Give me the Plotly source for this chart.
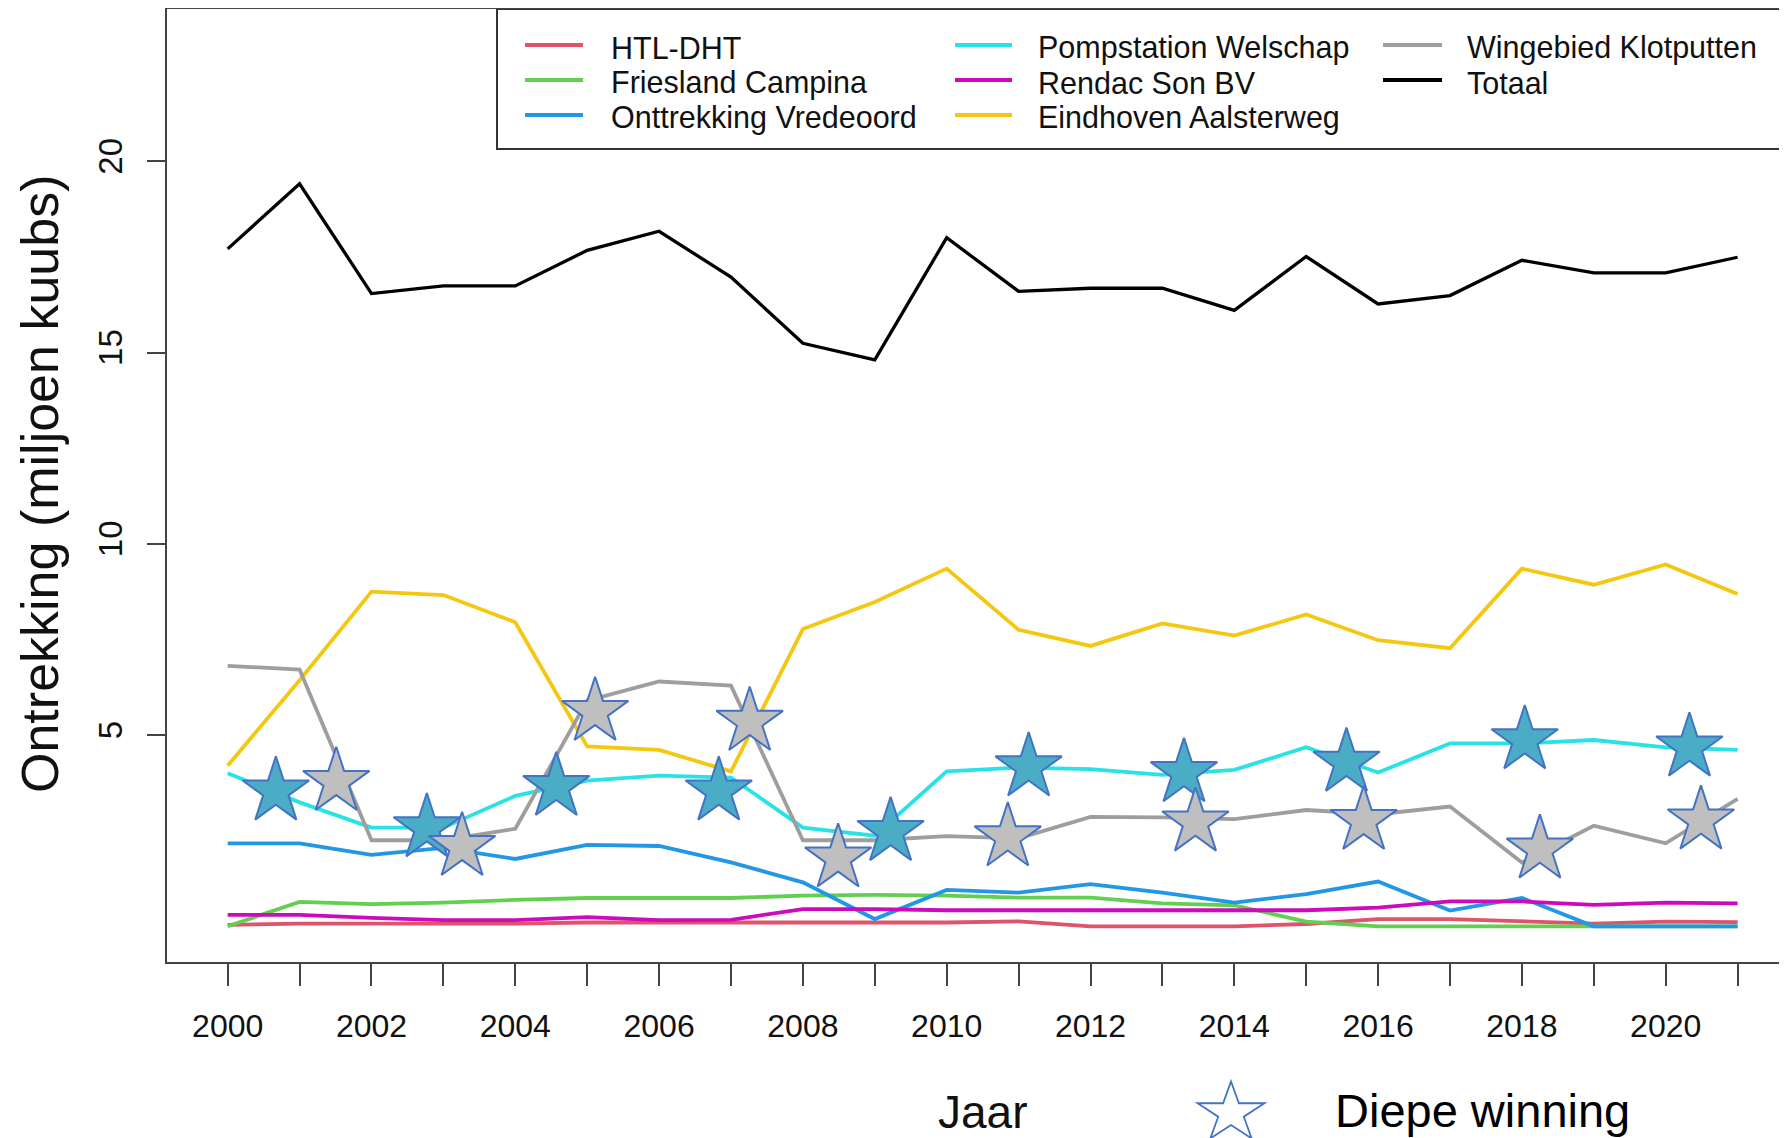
import math
import plotly.graph_objects as go

# ---------------- data ----------------
years = list(range(2000, 2022))
xtick_labels = [str(y) if y % 2 == 0 else "" for y in years]
ytick_vals = [5, 10, 15, 20]

htl_dht = [0.04, 0.07, 0.07, 0.07, 0.07, 0.10, 0.10, 0.10, 0.10, 0.10, 0.10,
           0.13, 0.00, 0.00, 0.00, 0.06, 0.19, 0.19, 0.14, 0.07, 0.12, 0.11]
friesland = [0.00, 0.64, 0.58, 0.62, 0.69, 0.74, 0.74, 0.74, 0.80, 0.82, 0.80,
             0.75, 0.75, 0.60, 0.55, 0.12, 0.00, 0.00, 0.00, 0.00, 0.00, 0.00]
vredeoord = [2.17, 2.17, 1.87, 2.05, 1.76, 2.13, 2.10, 1.67, 1.15, 0.19, 0.95,
             0.88, 1.10, 0.88, 0.62, 0.84, 1.17, 0.41, 0.74, 0.00, 0.00, 0.00]
welschap = [4.00, 3.24, 2.58, 2.58, 3.41, 3.81, 3.94, 3.89, 2.58, 2.37, 4.05,
            4.15, 4.11, 3.96, 4.09, 4.68, 4.02, 4.78, 4.78, 4.87, 4.68, 4.61]
rendac = [0.30, 0.30, 0.22, 0.16, 0.16, 0.24, 0.16, 0.17, 0.45, 0.45, 0.42,
          0.42, 0.41, 0.41, 0.41, 0.42, 0.49, 0.65, 0.65, 0.56, 0.62, 0.60]
aalsterweg = [4.20, 6.43, 8.75, 8.66, 7.95, 4.70, 4.61, 4.05, 7.77, 8.48, 9.35,
              7.75, 7.33, 7.92, 7.60, 8.15, 7.48, 7.27, 9.35, 8.93, 9.46, 8.69]
klotputten = [6.81, 6.71, 2.25, 2.25, 2.55, 5.90, 6.40, 6.29, 2.25, 2.25, 2.36,
              2.30, 2.86, 2.85, 2.80, 3.04, 2.93, 3.13, 1.67, 2.63, 2.17, 3.33]
totaal = [17.71, 19.41, 16.54, 16.74, 16.74, 17.67, 18.17, 16.97, 15.24, 14.81, 18.00,
          16.60, 16.68, 16.68, 16.10, 17.51, 16.27, 16.49, 17.41, 17.08, 17.08, 17.49]

series_names = ["HTL-DHT", "Friesland Campina", "Onttrekking Vredeoord",
                "Pompstation Welschap", "Rendac Son BV", "Eindhoven Aalsterweg",
                "Wingebied Klotputten", "Totaal"]
series_values = [htl_dht, friesland, vredeoord, welschap, rendac, aalsterweg,
                 klotputten, totaal]
series_colors = ["#DF536B", "#61D04F", "#2297E6", "#28E2E5", "#CD0BBC",
                 "#F5C710", "#9E9E9E", "#000000"]

# "Diepe winning" star annotations (year, value)
blue_star_x = [2000.67, 2002.77, 2004.57, 2006.83, 2009.22, 2011.14, 2013.30, 2015.56, 2018.04, 2020.33]
blue_star_y = [3.53, 2.57, 3.65, 3.53, 2.47, 4.16, 4.01, 4.28, 4.87, 4.68]
gray_star_x = [2001.51, 2003.26, 2005.11, 2007.26, 2008.49, 2010.85, 2013.46, 2015.80, 2018.25, 2020.49]
gray_star_y = [3.78, 2.08, 5.61, 5.35, 1.78, 2.33, 2.72, 2.76, 2.01, 2.77]

# ---------------- layout geometry (page pixels) ----------------
OFF = 8                      # default body margin of the html page
W, H = 1787 - OFF, 1138 - OFF
PLOT_LEFT, PLOT_TOP, PLOT_BOTTOM = 167, 9, 962
L, R, T = PLOT_LEFT - OFF, 0, PLOT_TOP - OFF
B = H - (PLOT_BOTTOM - OFF)
PW, PH = W - L - R, H - T - B


def px(p):
    return (p - OFF - L) / PW


def py(p):
    return (PLOT_BOTTOM - p) / PH


SANS = "Liberation Sans, Arial, sans-serif"
TXT = "#111111"

fig = go.Figure()

for name, vals, col in zip(series_names, series_values, series_colors):
    fig.add_trace(go.Scatter(
        x=years, y=vals, mode="lines", name=name,
        line=dict(color=col, width=3.8 if col != "#000000" else 3.3),
        showlegend=False, hoverinfo="skip"))

fig.add_trace(go.Scatter(
    x=blue_star_x, y=blue_star_y, mode="markers", showlegend=False,
    marker=dict(symbol="star", size=50, color="#4BACC6",
                line=dict(color="#4472C4", width=2)), cliponaxis=False))
fig.add_trace(go.Scatter(
    x=gray_star_x, y=gray_star_y, mode="markers", showlegend=False,
    marker=dict(symbol="star", size=50, color="#BFBFBF",
                line=dict(color="#4472C4", width=2)), cliponaxis=False))

shapes = []
annotations = []

# legend box
shapes.append(dict(type="rect", xref="paper", yref="paper",
                   x0=px(497), x1=1.05, y0=py(149), y1=py(9),
                   line=dict(color="#333333", width=2), fillcolor="white",
                   layer="below"))

col_line_x = [(525, 583), (955, 1012), (1383, 1442)]
col_text_x = [609, 1036, 1465]
row_y = [45, 80, 115]
for i, (name, col) in enumerate(zip(series_names, series_colors)):
    c, r = i // 3, i % 3
    x0, x1 = col_line_x[c]
    shapes.append(dict(type="line", xref="paper", yref="paper",
                       x0=px(x0), x1=px(x1), y0=py(row_y[r]), y1=py(row_y[r]),
                       line=dict(color=col, width=4)))
    annotations.append(dict(text=name, xref="paper", yref="paper",
                            x=px(col_text_x[c]), y=py(row_y[r] + 3),
                            xanchor="left", yanchor="middle", showarrow=False,
                            font=dict(family=SANS, size=30.5, color=TXT)))

# y-axis title
annotations.append(dict(text="Ontrekking (miljoen kuubs)", xref="paper", yref="paper",
                        x=px(40), y=py(484), textangle=-90, showarrow=False,
                        xanchor="center", yanchor="middle",
                        font=dict(family=SANS, size=52, color=TXT)))
# x-axis title
annotations.append(dict(text="Jaar", xref="paper", yref="paper",
                        x=px(983), y=py(1112), showarrow=False,
                        xanchor="center", yanchor="middle",
                        font=dict(family=SANS, size=46, color=TXT)))
# "Diepe winning" label
annotations.append(dict(text="Diepe winning", xref="paper", yref="paper",
                        x=px(1333), y=py(1110), showarrow=False,
                        xanchor="left", yanchor="middle",
                        font=dict(family=SANS, size=47, color="#000000")))

# outline star glyph for the bottom label
cx, cy, rx, ry = 1231, 1113, 35.2, 31.5
pts = []
for k in range(10):
    a = math.radians(-90 + 36 * k)
    f = 1.0 if k % 2 == 0 else 0.382
    pts.append((cx + rx * f * math.cos(a), cy + ry * f * math.sin(a)))
path = "M " + " L ".join(f"{px(x):.5f},{py(y):.5f}" for x, y in pts) + " Z"
shapes.append(dict(type="path", xref="paper", yref="paper", path=path,
                   fillcolor="white", line=dict(color="#4472C4", width=1.8)))

fig.update_layout(
    width=W, height=H,
    margin=dict(l=L, r=R, t=T, b=B, pad=0),
    plot_bgcolor="white", paper_bgcolor="white",
    shapes=shapes, annotations=annotations,
    showlegend=False,
    xaxis=dict(range=[1999.156, 2021.687], tickmode="array",
               tickvals=years, ticktext=xtick_labels,
               ticks="outside", ticklen=22, tickwidth=2, tickcolor="#444444",
               showline=True, linecolor="#444444", linewidth=2, mirror=True,
               showgrid=False, zeroline=False, ticklabelstandoff=13,
               tickfont=dict(family=SANS, size=32, color=TXT)),
    yaxis=dict(range=[-0.933, 23.98], tickmode="array", tickvals=ytick_vals,
               ticktext=[str(v) for v in ytick_vals], tickangle=-90,
               ticks="outside", ticklen=18, tickwidth=2, tickcolor="#444444",
               showline=True, linecolor="#444444", linewidth=2, mirror=False,
               showgrid=False, zeroline=False, ticklabelstandoff=12,
               tickfont=dict(family=SANS, size=33, color=TXT)),
)

fig.write_html("out.html")
